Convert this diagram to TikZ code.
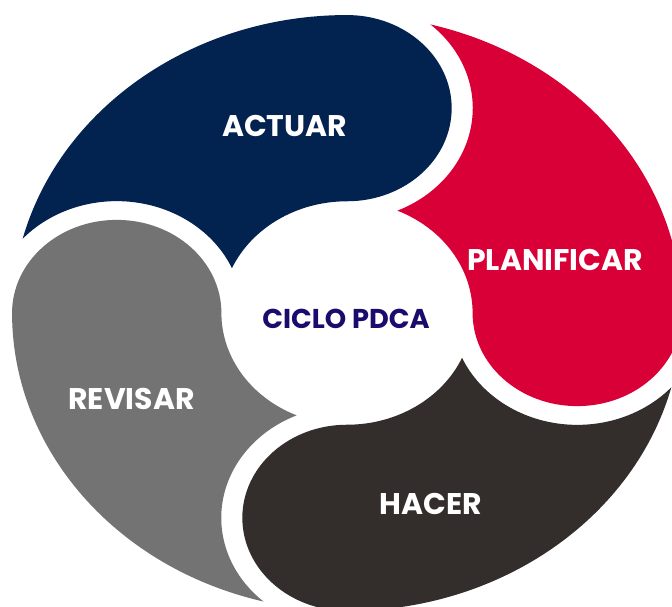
\documentclass[tikz,border=0pt]{standalone}
\usepackage{fontspec}
\newfontfamily\pdcafont{Poppins}
\usetikzlibrary{positioning}
\definecolor{pdcanavy}{HTML}{022350}
\definecolor{pdcared}{HTML}{D80036}
\definecolor{pdcadark}{HTML}{332E2B}
\definecolor{pdcagray}{HTML}{737373}
\definecolor{pdcaink}{HTML}{1A0C6C}
\tikzset{
  steplbl/.style={font=\pdcafont\bfseries\fontsize{17}{20}\selectfont,
    text=white,inner sep=0pt},
  corelbl/.style={steplbl,font=\pdcafont\bfseries\fontsize{15.5}{18}\selectfont,
    text=pdcaink},
}
\begin{document}
\begin{tikzpicture}[x=0.02cm,y=0.02cm]
  \useasboundingbox[fill=white] (0,0) rectangle (672,606);
  % four comma shaped segments, head angle / colour
  \begin{scope}[shift={(347,293)},x=6.7cm,y=5.96cm]
    \foreach \h/\c in {90/pdcanavy,0/pdcared,-90/pdcadark,180/pdcagray}
      \fill[\c] (\h+75.57:1) arc[start angle=\h+75.57,end angle=\h,radius=1]
        arc[start angle=\h,end angle=\h-180,radius=0.3125]
        arc[start angle=\h,end angle=\h+66.35,radius=0.375]
        arc[start angle=\h-66.38,end angle=\h+48.43,radius=0.3755] -- cycle;
  \end{scope}
  \node[steplbl] (act) at (284.5,479.5) {ACTUAR};
  \node[steplbl] (plan) at (555,346) {PLANIFICAR};
  \node[steplbl] (hac) at (431,102.5) {HACER};
  \node[steplbl] (rev) at (131.5,207.5) {REVISAR};
  \node[corelbl] (core) at (346,287.5) {CICLO PDCA};
\end{tikzpicture}
\end{document}
